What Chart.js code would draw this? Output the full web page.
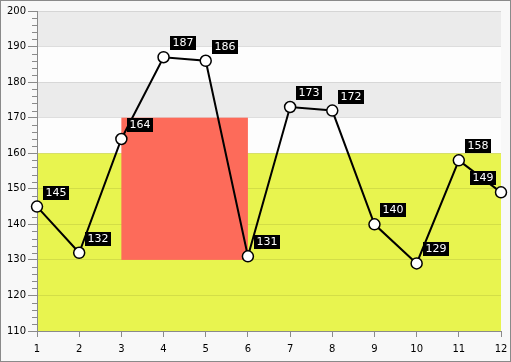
<!DOCTYPE html>
<html><head><meta charset="utf-8">
<script src="https://cdn.jsdelivr.net/npm/chart.js@4"></script>
<style>
html,body{margin:0;padding:0;background:#f8f8f8;}
#wrap{position:absolute;left:0;top:0;width:509px;height:360px;border:1px solid #8a8a8a;background:#f8f8f8;}
canvas{display:block;}
</style></head><body>
<div id="wrap"><canvas id="c" width="509" height="360"></canvas></div>
<script>
const categories = [1,2,3,4,5,6,7,8,9,10,11,12];
const values = [145,132,164,187,186,131,173,172,140,129,158,149];
const yTicks = [110,120,130,140,150,160,170,180,190,200];
const bandFrom = [190,170,160,110];
const bandTo   = [200,180,170,160];
const bandColors = ['#ebebeb','#ebebeb','#fdfdfd','#e8f44f'];
const rectX = [3,6];
const rectY = [130,170];

const bgPlugin = {
  id:'bg',
  beforeDraw(chart){
    const {ctx, chartArea:a, scales:{x,y}} = chart;
    ctx.save();
    ctx.fillStyle='#fdfdfd';
    ctx.fillRect(a.left,a.top,a.right-a.left,a.bottom-a.top);
    for(let i=0;i<bandFrom.length;i++){
      const t=y.getPixelForValue(bandTo[i]), b=y.getPixelForValue(bandFrom[i]);
      ctx.fillStyle=bandColors[i];
      ctx.fillRect(a.left,t,a.right-a.left,b-t);
    }
    ctx.restore();
  },
  beforeDatasetsDraw(chart){
    const {ctx, scales:{x,y}} = chart;
    const l=x.getPixelForValue(rectX[0]), r=x.getPixelForValue(rectX[1]);
    const t=y.getPixelForValue(rectY[1]), b=y.getPixelForValue(rectY[0]);
    ctx.save();
    ctx.fillStyle='#fd6b5a';
    ctx.fillRect(l,t,r-l,b-t);
    ctx.strokeStyle='#8a8a8a'; ctx.lineWidth=1;
    for(let v=y.min; v<=y.max; v+=2){
      if(v%10===0) continue;
      const py=Math.round(y.getPixelForValue(v))+0.5;
      ctx.beginPath(); ctx.moveTo(x.left-5,py); ctx.lineTo(x.left,py); ctx.stroke();
    }
    ctx.restore();
  },
  afterDatasetsDraw(chart){
    const {ctx} = chart;
    const meta = chart.getDatasetMeta(0);
    ctx.save();
    ctx.font='11px "DejaVu Sans"';
    ctx.textBaseline='middle';
    meta.data.forEach((pt,i)=>{
      const txt=String(values[i]);
      const w=ctx.measureText(txt).width+5, h=14;
      let bx = pt.x+6;
      if(bx+w>chart.chartArea.right) bx = pt.x-5-w;
      const by = pt.y-7-h;
      ctx.fillStyle='#000';
      ctx.fillRect(Math.round(bx),Math.round(by),Math.round(w),h);
      ctx.fillStyle='#fff';
      ctx.textAlign='center';
      ctx.fillText(txt,Math.round(bx)+Math.round(w)/2,Math.round(by)+h/2+0.5);
    });
    ctx.restore();
  }
};

new Chart(document.getElementById('c'),{
  type:'scatter',
  data:{datasets:[{
    data:categories.map((c,i)=>({x:c,y:values[i]})),
    showLine:true,
    borderColor:'#000',
    borderWidth:2,
    pointRadius:5.5,
    pointBackgroundColor:'#fff',
    pointBorderColor:'#000',
    pointBorderWidth:1.5,
    clip:false
  }]},
  options:{
    responsive:false,
    animation:false,
    devicePixelRatio:1,
    layout:{padding:{top:10,right:9,left:0,bottom:0}},
    plugins:{legend:{display:false},tooltip:{enabled:false}},
    scales:{
      x:{type:'linear',min:1,max:12,
        afterBuildTicks(s){s.ticks=categories.map(v=>({value:v}));},
        afterFit(s){s.paddingRight=0;s.paddingLeft=0;},
        grid:{drawOnChartArea:false,tickLength:6,tickColor:'#8a8a8a'},
        border:{color:'#8a8a8a'},
        ticks:{color:'#000',font:{family:'DejaVu Sans',size:10},padding:6,maxRotation:0}
      },
      y:{min:110,max:200,
        afterBuildTicks(s){s.ticks=yTicks.map(v=>({value:v}));},
        afterFit(s){s.width=36;},
        grid:{color:'rgba(0,0,0,0.09)',tickColor:'#8a8a8a',tickLength:9},
        border:{color:'#8a8a8a'},
        ticks:{color:'#000',font:{family:'DejaVu Sans',size:10},padding:2}
      }
    }
  },
  plugins:[bgPlugin]
});
</script>
</body></html>
